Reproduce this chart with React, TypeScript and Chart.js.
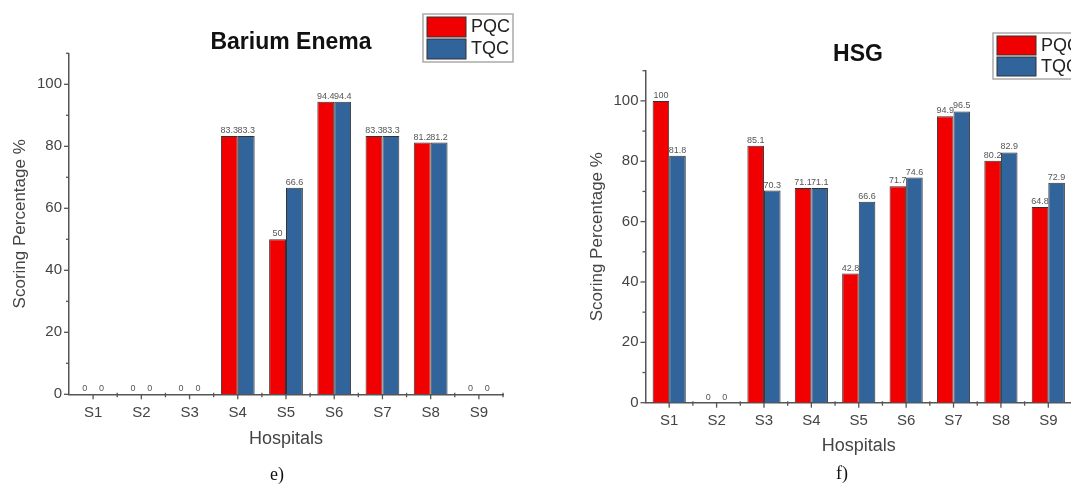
import React, { useEffect, useRef } from 'react';
import { Chart, registerables } from 'chart.js';

Chart.register(...registerables);

const hospitals = ['S1', 'S2', 'S3', 'S4', 'S5', 'S6', 'S7', 'S8', 'S9'];
const bariumPQC = [0, 0, 0, 83.3, 50, 94.4, 83.3, 81.2, 0];
const bariumTQC = [0, 0, 0, 83.3, 66.6, 94.4, 83.3, 81.2, 0];
const hsgPQC = [100, 0, 85.1, 71.1, 42.8, 71.7, 94.9, 80.2, 64.8];
const hsgTQC = [81.8, 0, 70.3, 71.1, 66.6, 74.6, 96.5, 82.9, 72.9];
const yTickValues = [0, 20, 40, 60, 80, 100];
const seriesNames = ['PQC', 'TQC'];
const seriesColors = ['#f00000', '#30649a'];

const FONT = "'Liberation Sans', Arial, Helvetica, sans-serif";

type PanelProps = {
  pqc: number[];
  tqc: number[];
  title: string;
  canvasLeft: number;
  width: number;
  height: number;
  padTop: number;
  padRight: number;
  padBottom: number;
  yW: number;
  xH: number;
  yTitlePad: number;
  xTitlePad: number;
  xTickPad: number;
  titleX: number;
  titleY: number;
  legendX: number;
  legendY: number;
  legendW: number;
  legendH: number;
};

function Panel(p: PanelProps) {
  const ref = useRef<HTMLCanvasElement | null>(null);
  useEffect(() => {
    if (!ref.current) return;
    const decor = {
      id: 'decor',
      afterDraw(chart: any) {
        const ctx = chart.ctx as CanvasRenderingContext2D;
        const area = chart.chartArea;
        const xs = chart.scales.x;
        const ys = chart.scales.y;
        ctx.save();
        // ticks
        ctx.strokeStyle = '#555';
        ctx.lineWidth = 1.3;
        for (let v = 0; v <= 110; v += 10) {
          const y = ys.getPixelForValue(v);
          const len = v % 20 === 0 ? 5 : 3;
          ctx.beginPath();
          ctx.moveTo(area.left, y);
          ctx.lineTo(area.left - len, y);
          ctx.stroke();
        }
        const n = hospitals.length;
        const step = (area.right - area.left) / n;
        for (let i = 0; i < n; i++) {
          const cx = xs.getPixelForValue(i);
          ctx.beginPath();
          ctx.moveTo(cx, area.bottom);
          ctx.lineTo(cx, area.bottom + 5);
          ctx.stroke();
        }
        for (let i = 1; i <= n; i++) {
          const bx = area.left + i * step;
          ctx.beginPath();
          ctx.moveTo(bx, area.bottom - 1.5);
          ctx.lineTo(bx, area.bottom + 3);
          ctx.stroke();
        }
        // value labels
        ctx.font = `9px ${FONT}`;
        ctx.fillStyle = '#555';
        ctx.textAlign = 'center';
        ctx.textBaseline = 'bottom';
        chart.data.datasets.forEach((ds: any, di: number) => {
          const meta = chart.getDatasetMeta(di);
          meta.data.forEach((el: any, i: number) => {
            ctx.fillText(String(ds.data[i]), el.x, el.y - 1);
          });
        });
        // title
        ctx.font = `bold 23px ${FONT}`;
        ctx.fillStyle = '#111';
        ctx.textBaseline = 'middle';
        ctx.fillText(p.title, p.titleX, p.titleY);
        // legend
        ctx.fillStyle = '#fff';
        ctx.fillRect(p.legendX, p.legendY, p.legendW, p.legendH);
        ctx.strokeStyle = '#aaa';
        ctx.lineWidth = 1.5;
        ctx.strokeRect(p.legendX, p.legendY, p.legendW, p.legendH);
        const rowH = (p.legendH - 6) / 2;
        seriesNames.forEach((name, k) => {
          const sy = p.legendY + 3 + k * (rowH + 1);
          ctx.fillStyle = seriesColors[k];
          ctx.fillRect(p.legendX + 4, sy, 39, rowH - 1);
          ctx.strokeStyle = '#333';
          ctx.lineWidth = 1;
          ctx.strokeRect(p.legendX + 4, sy, 39, rowH - 1);
          ctx.fillStyle = '#222';
          ctx.font = `18px ${FONT}`;
          ctx.textAlign = 'left';
          ctx.textBaseline = 'middle';
          ctx.fillText(name, p.legendX + 48, sy + rowH / 2);
        });
        ctx.restore();
      },
    };
    const chart = new Chart(ref.current, {
      type: 'bar',
      data: {
        labels: hospitals,
        datasets: [
          { label: seriesNames[0], data: p.pqc, backgroundColor: seriesColors[0], borderColor: '#333', borderWidth: 1 },
          { label: seriesNames[1], data: p.tqc, backgroundColor: seriesColors[1], borderColor: '#333', borderWidth: 1 },
        ],
      },
      options: {
        responsive: false,
        animation: false,
        devicePixelRatio: 1,
        layout: {
          autoPadding: false,
          padding: { left: 0, top: p.padTop, right: p.padRight, bottom: p.padBottom },
        },
        datasets: { bar: { categoryPercentage: 0.7, barPercentage: 1.0 } },
        plugins: { legend: { display: false }, title: { display: false }, tooltip: { enabled: false } },
        scales: {
          x: {
            type: 'category',
            offset: true,
            grid: { display: false, drawTicks: false },
            border: { display: true, color: '#555', width: 1.5 },
            ticks: { font: { size: 15, family: FONT }, color: '#444', padding: p.xTickPad, maxRotation: 0 },
            title: {
              display: true,
              text: 'Hospitals',
              font: { size: 18, family: FONT },
              color: '#444',
              padding: { top: 0, bottom: p.xTitlePad },
            },
            afterFit: (s: any) => {
              s.height = p.xH;
            },
          },
          y: {
            type: 'linear',
            min: 0,
            max: 110,
            grid: { display: false, drawTicks: false },
            border: { display: true, color: '#555', width: 1.5 },
            ticks: { font: { size: 15, family: FONT }, color: '#444', padding: 7 },
            afterBuildTicks: (s: any) => {
              s.ticks = yTickValues.map((v) => ({ value: v }));
            },
            title: {
              display: true,
              text: 'Scoring Percentage %',
              font: { size: 17, family: FONT },
              color: '#444',
              padding: { top: p.yTitlePad, bottom: 0 },
            },
            afterFit: (s: any) => {
              s.width = p.yW;
            },
          },
        },
      },
      plugins: [decor],
    } as any);
    return () => chart.destroy();
  }, []);
  return (
    <canvas
      ref={ref}
      width={p.width}
      height={p.height}
      style={{ position: 'absolute', left: p.canvasLeft, top: 0, width: p.width, height: p.height }}
    />
  );
}

export default function App() {
  return (
    <div style={{ position: 'fixed', left: 0, top: 0, width: '100vw', height: '100vh', overflow: 'hidden', background: '#fff' }}>
      <Panel
        pqc={bariumPQC}
        tqc={bariumTQC}
        title="Barium Enema"
        canvasLeft={0}
        width={535}
        height={486}
        padTop={53.3}
        padRight={32}
        padBottom={31.7}
        yW={69}
        xH={60}
        yTitlePad={9.8}
        xTitlePad={4.5}
        xTickPad={9.5}
        titleX={291}
        titleY={43}
        legendX={423}
        legendY={14}
        legendW={90}
        legendH={48}
      />
      <Panel
        pqc={hsgPQC}
        tqc={hsgTQC}
        title="HSG"
        canvasLeft={560}
        width={535}
        height={486}
        padTop={70.7}
        padRight={23}
        padBottom={28.3}
        yW={85.5}
        xH={55}
        yTitlePad={26.8}
        xTitlePad={1}
        xTickPad={9}
        titleX={298}
        titleY={55}
        legendX={433}
        legendY={33}
        legendW={90}
        legendH={46}
      />
      <div style={{ position: 'absolute', left: 270, top: 464, fontFamily: "'Liberation Serif', 'Times New Roman', serif", fontSize: 18, color: '#111' }}>e)</div>
      <div style={{ position: 'absolute', left: 836, top: 463, fontFamily: "'Liberation Serif', 'Times New Roman', serif", fontSize: 18, color: '#111' }}>f)</div>
    </div>
  );
}
